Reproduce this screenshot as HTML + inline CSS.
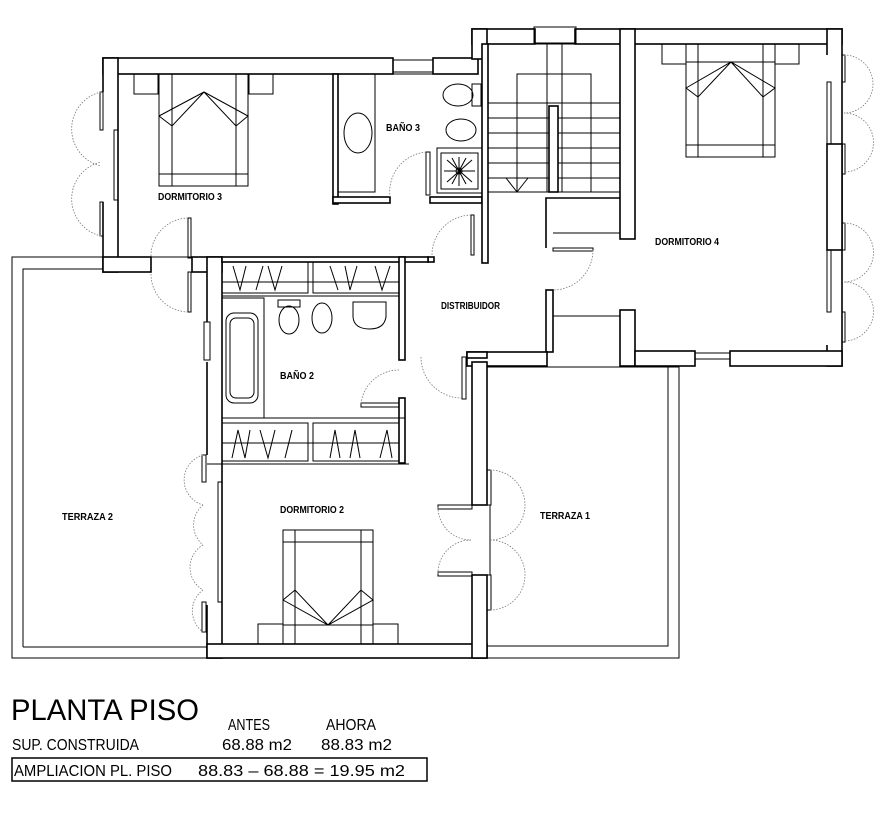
<!DOCTYPE html>
<html><head><meta charset="utf-8"><style>
html,body{margin:0;padding:0;background:#fff;}
svg{display:block;}
.w{fill:#fff;stroke:#000;stroke-width:1.6;}
.t{fill:none;stroke:#000;stroke-width:1;}
.d{fill:none;stroke:#777;stroke-width:0.8;stroke-dasharray:1.5,1.5;}
.lbl{font-family:"Liberation Sans",sans-serif;font-weight:bold;font-size:10px;}
.big{font-family:"Liberation Sans Narrow","Liberation Sans",sans-serif;}
</style></head><body>
<svg width="887" height="825" viewBox="0 0 887 825" xmlns="http://www.w3.org/2000/svg">
<!-- Terraza 2 -->
<rect x="12" y="257" width="195" height="401" class="t" stroke-width="1.5"/>
<polyline points="23,647 23,269 103,269" class="t"/>
<line x1="23" y1="647" x2="207" y2="647" class="t"/>
<!-- Terraza 1 -->
<polyline points="487,367 679,367 679,658 487,658" class="t" stroke-width="1.5"/>
<polyline points="487,646 668,646 668,367" class="t"/>

<!-- Dorm3 block walls -->
<rect x="103" y="58" width="290" height="16" class="w"/>
<rect x="433" y="58" width="45" height="16" class="w"/>
<rect x="393" y="60" width="40" height="14" class="t"/>
<line x1="393" y1="72" x2="433" y2="72" class="t"/>
<rect x="103" y="58" width="15" height="214" class="w"/>
<rect x="98" y="92" width="14" height="110" fill="#fff"/>
<rect x="114" y="130" width="4" height="70" class="t"/>
<rect x="100" y="92" width="3" height="38" class="t"/>
<rect x="100" y="202" width="3" height="34" class="t"/>
<rect x="103" y="257" width="48" height="15" class="w"/>
<rect x="192" y="257" width="30" height="15" class="w"/>
<rect x="188" y="218" width="3" height="40" class="t"/>
<rect x="188" y="272" width="3" height="40" class="t"/>
<path d="M188,218 A38,38 0 0 0 151,256" class="d"/>
<path d="M188,312 A38,38 0 0 1 151,274" class="d"/>
<path d="M101,92 A38,38 0 0 0 101,166" class="d"/>
<path d="M101,236 A38,38 0 0 1 101,162" class="d"/>
<!-- Dorm3 bed -->
<rect x="134" y="74" width="24" height="20" class="t"/>
<rect x="249" y="74" width="24" height="20" class="t"/>
<rect x="159" y="74" width="89" height="112" class="t"/>
<line x1="172" y1="74" x2="172" y2="186" class="t"/><line x1="236" y1="74" x2="236" y2="186" class="t"/>
<line x1="159" y1="174" x2="248" y2="174" class="t"/>
<polyline points="159,116 204,92 248,116 236,126 204,92 172,126 159,116" class="t"/>
<text x="158" y="200" class="lbl" textLength="64" lengthAdjust="spacingAndGlyphs">DORMITORIO 3</text>

<!-- Baño 3 -->
<rect x="333" y="74" width="5" height="130" class="w"/>
<rect x="333" y="197" width="57" height="6" class="w"/>
<rect x="430" y="197" width="52" height="6" class="w"/>
<rect x="338" y="74" width="37" height="118" class="t"/>
<ellipse cx="358" cy="133" rx="14" ry="20" class="t"/>
<rect x="426" y="152" width="4" height="43" class="t"/>
<path d="M426,152 A40,40 0 0 0 390,197" class="d"/>
<rect x="437" y="148" width="45" height="45" class="t" stroke-width="1.5"/>
<rect x="441" y="153" width="37" height="36" class="t"/>
<g stroke="#000" stroke-width="1"><line x1="447" y1="160" x2="472" y2="182"/><line x1="472" y1="160" x2="447" y2="182"/><line x1="459" y1="157" x2="459" y2="186"/><line x1="444" y1="171" x2="475" y2="171"/><line x1="452" y1="158" x2="466" y2="184"/><line x1="466" y1="158" x2="452" y2="184"/></g>
<circle cx="459" cy="171" r="3" class="t"/>
<ellipse cx="458" cy="95" rx="15" ry="11" class="t"/><rect x="472" y="84" width="9" height="22" class="t"/>
<ellipse cx="461" cy="130" rx="15" ry="11" class="t"/>
<text x="386" y="131" class="lbl" textLength="34" lengthAdjust="spacingAndGlyphs">BAÑO 3</text>

<!-- Stair/Dorm4 block -->
<rect x="472" y="29" width="63" height="15" class="w"/>
<rect x="575" y="29" width="267" height="15" class="w"/>
<rect x="534" y="27" width="42" height="16" class="t"/>
<rect x="472" y="29" width="15" height="30" class="w"/>
<rect x="482" y="44" width="6" height="219" class="w"/>
<rect x="827" y="29" width="15" height="337" class="w"/>
<rect x="822" y="55" width="14" height="290" fill="#fff"/>
<rect x="827" y="82" width="4" height="62" class="t"/><rect x="827" y="250" width="4" height="62" class="t"/>
<rect x="827" y="144" width="15" height="106" class="w"/>
<rect x="842" y="55" width="3" height="27" class="t"/><rect x="842" y="144" width="3" height="30" class="t"/>
<rect x="842" y="223" width="3" height="27" class="t"/><rect x="842" y="312" width="3" height="30" class="t"/>
<path d="M844,55 A28,28 0 0 1 844,113" class="d"/><path d="M844,113 A28,28 0 0 1 844,172" class="d"/>
<path d="M844,223 A28,28 0 0 1 844,282" class="d"/><path d="M844,282 A28,28 0 0 1 844,341" class="d"/>
<rect x="620" y="29" width="15" height="210" class="w"/>
<rect x="620" y="310" width="15" height="56" class="w"/>
<rect x="635" y="351" width="60" height="15" class="w"/>
<rect x="730" y="351" width="112" height="15" class="w"/>
<rect x="695" y="353" width="35" height="6" class="t"/>
<!-- Stairs -->
<rect x="488" y="44" width="132" height="148" class="t"/>
<rect x="517" y="74" width="74" height="118" class="t"/>
<line x1="547" y1="44" x2="547" y2="192" class="t"/><line x1="562" y1="44" x2="562" y2="192" class="t"/>
<g class="t"><line x1="488" y1="103" x2="620" y2="103"/><line x1="488" y1="118" x2="620" y2="118"/><line x1="488" y1="133" x2="620" y2="133"/><line x1="488" y1="148" x2="620" y2="148"/><line x1="488" y1="163" x2="620" y2="163"/><line x1="488" y1="178" x2="620" y2="178"/></g>
<rect x="549" y="106" width="9" height="86" class="w" stroke-width="1.5"/>
<polyline points="506,178 517,192 528,178" class="t"/>
<line x1="488" y1="192" x2="620" y2="192" class="t" stroke-width="2"/>
<!-- Dorm4 closets -->
<polyline points="546,248 546,198 620,198" class="w"/>
<line x1="553" y1="233" x2="620" y2="233" class="t"/>
<rect x="553" y="248" width="40" height="3" class="t"/>
<path d="M593,250 A40,40 0 0 1 553,290" class="d"/>
<rect x="546" y="290" width="7" height="62" class="w"/>
<line x1="553" y1="316" x2="620" y2="316" class="t"/>
<rect x="686" y="62" width="89" height="95" class="t"/>
<rect x="662" y="44" width="24" height="20" class="t"/><rect x="775" y="44" width="24" height="20" class="t"/>
<line x1="698" y1="44" x2="698" y2="157" class="t"/><line x1="763" y1="44" x2="763" y2="157" class="t"/>
<line x1="686" y1="145" x2="775" y2="145" class="t"/>
<polyline points="686,88 731,62 775,88 763,97 731,62 698,97 686,88" class="t"/>
<text x="655" y="245" class="lbl" textLength="64" lengthAdjust="spacingAndGlyphs">DORMITORIO 4</text>

<!-- Distribuidor -->
<rect x="428" y="257" width="6" height="5" class="w"/>
<rect x="471" y="215" width="3" height="40" class="t"/>
<path d="M471,215 A40,40 0 0 0 432,256" class="d"/>
<rect x="467" y="352" width="80" height="14" class="w"/>
<rect x="467" y="352" width="20" height="6" class="w"/>
<rect x="462" y="357" width="4" height="42" class="t"/>
<path d="M421,357 A41,41 0 0 0 462,398" class="d"/>
<text x="441" y="309" class="lbl" textLength="59" lengthAdjust="spacingAndGlyphs">DISTRIBUIDOR</text>

<!-- Lower block -->
<rect x="207" y="257" width="15" height="401" class="w"/>
<rect x="202" y="322" width="8" height="40" fill="#fff"/>
<rect x="204" y="322" width="6" height="38" class="t"/>
<rect x="200" y="455" width="12" height="150" fill="#fff"/>
<rect x="218" y="482" width="4" height="120" class="t"/>
<rect x="202" y="455" width="4" height="27" class="t"/><rect x="202" y="602" width="4" height="30" class="t"/>
<path d="M203,455 A26,26 0 0 0 203,505" class="d"/><path d="M203,505 A26,26 0 0 0 203,545" class="d"/>
<path d="M203,545 A26,26 0 0 0 203,590" class="d"/><path d="M203,590 A26,26 0 0 0 203,632" class="d"/>
<rect x="207" y="644" width="280" height="14" class="w"/>
<rect x="472" y="362" width="15" height="143" class="w"/>
<rect x="472" y="575" width="15" height="83" class="w"/>
<rect x="487" y="470" width="4" height="35" class="t"/><rect x="487" y="575" width="4" height="35" class="t"/>
<rect x="438" y="505" width="34" height="4" class="t"/><rect x="438" y="572" width="34" height="4" class="t"/>
<line x1="490" y1="505" x2="490" y2="575" class="t"/>
<path d="M490,470 A35,35 0 0 1 490,540" class="d"/><path d="M490,540 A35,35 0 0 1 490,610" class="d"/>
<path d="M438,507 A33,33 0 0 0 471,540" class="d"/><path d="M438,574 A33,33 0 0 1 471,540" class="d"/>
<!-- wardrobes -->
<rect x="222" y="257" width="206" height="5" class="w"/>
<rect x="399" y="257" width="6" height="103" class="w"/>
<rect x="399" y="398" width="6" height="65" class="w"/>
<rect x="222" y="262" width="86" height="31" class="t" stroke-width="1.5"/>
<rect x="313" y="262" width="86" height="31" class="t" stroke-width="1.5"/>
<line x1="222" y1="282" x2="399" y2="282" class="t"/>
<g class="t"><polyline points="233,266 240,290 246,266"/><polyline points="263,266 256,290"/><polyline points="268,266 275,290 282,266"/><polyline points="330,266 338,290"/><polyline points="345,266 350,290 357,266"/><polyline points="375,266 382,290 390,266"/></g>
<line x1="222" y1="296" x2="399" y2="296" class="t" stroke-width="2"/>
<!-- bath2 -->
<rect x="222" y="298" width="42" height="120" class="t"/>
<rect x="226" y="313" width="32" height="90" rx="8" class="t"/>
<rect x="230" y="318" width="24" height="80" rx="6" class="t"/>
<ellipse cx="289" cy="320" rx="10" ry="14" class="t"/><rect x="278" y="300" width="22" height="7" class="t"/>
<ellipse cx="322" cy="318" rx="10" ry="15" class="t"/>
<path d="M353,302 h33 v15 q-2,12 -16,12 q-16,0 -17,-12 z" class="t"/>
<line x1="222" y1="418" x2="405" y2="418" class="t" stroke-width="2"/>
<rect x="361" y="403" width="38" height="4" class="t"/>
<path d="M399,370 A38,38 0 0 0 361,404" class="d"/>
<text x="280" y="379" class="lbl" textLength="34" lengthAdjust="spacingAndGlyphs">BAÑO 2</text>
<!-- wardrobes lower -->
<rect x="222" y="423" width="86" height="38" class="t" stroke-width="1.5"/>
<rect x="313" y="423" width="86" height="38" class="t" stroke-width="1.5"/>
<line x1="222" y1="443" x2="399" y2="443" class="t"/>
<g class="t"><polyline points="232,458 238,430 245,458 250,430"/><polyline points="260,430 268,458 275,430"/><polyline points="285,458 292,430"/><polyline points="330,458 335,430 340,458"/><polyline points="350,458 355,430 360,458"/><polyline points="380,458 387,430 392,458"/></g>
<line x1="207" y1="464" x2="409" y2="464" class="t" stroke-width="2"/>
<!-- dorm2 bed -->
<rect x="283" y="530" width="90" height="95" class="t"/>
<line x1="295" y1="530" x2="295" y2="644" class="t"/><line x1="361" y1="530" x2="361" y2="644" class="t"/>
<line x1="283" y1="542" x2="373" y2="542" class="t"/>
<polyline points="283,600 328,625 373,600 361,590 328,625 295,590 283,600" class="t"/>
<rect x="258" y="624" width="25" height="20" class="t"/><rect x="373" y="624" width="25" height="20" class="t"/>
<rect x="295" y="625" width="66" height="19" class="t"/>
<text x="280" y="513" class="lbl" textLength="64" lengthAdjust="spacingAndGlyphs">DORMITORIO 2</text>
<text x="62" y="520" class="lbl" textLength="51" lengthAdjust="spacingAndGlyphs">TERRAZA 2</text>
<text x="540" y="519" class="lbl" textLength="50" lengthAdjust="spacingAndGlyphs">TERRAZA 1</text>

<!-- titles -->
<text x="11" y="720" class="big" font-size="30" textLength="188" lengthAdjust="spacingAndGlyphs">PLANTA PISO</text>
<text x="228" y="730" class="big" font-size="16" textLength="42" lengthAdjust="spacingAndGlyphs">ANTES</text>
<text x="326" y="730" class="big" font-size="16" textLength="50" lengthAdjust="spacingAndGlyphs">AHORA</text>
<text x="12" y="750" class="big" font-size="16" textLength="127" lengthAdjust="spacingAndGlyphs">SUP. CONSTRUIDA</text>
<text x="222" y="750" class="big" font-size="16" textLength="70" lengthAdjust="spacingAndGlyphs">68.88 m2</text>
<text x="321" y="750" class="big" font-size="16" textLength="71" lengthAdjust="spacingAndGlyphs">88.83 m2</text>
<rect x="12" y="758" width="415" height="23" fill="none" stroke="#000" stroke-width="1.5"/>
<text x="14" y="776" class="big" font-size="16" textLength="158" lengthAdjust="spacingAndGlyphs">AMPLIACION PL. PISO</text>
<text x="198" y="776" class="big" font-size="16" textLength="207" lengthAdjust="spacingAndGlyphs">88.83 – 68.88 = 19.95 m2</text>
</svg>
</body></html>
